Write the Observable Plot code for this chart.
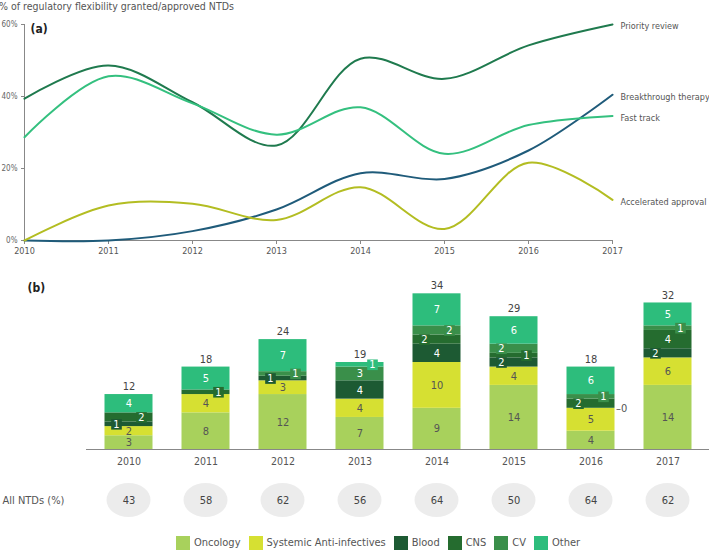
<!DOCTYPE html>
<html><head><meta charset="utf-8">
<script src="https://cdn.jsdelivr.net/npm/d3@7"></script>
<script src="https://cdn.jsdelivr.net/npm/@observablehq/plot@0.6"></script>
<style>
body{margin:0;background:#fff;}
#c{position:relative;width:709px;height:550px;overflow:hidden;font-family:'DejaVu Sans',sans-serif;font-stretch:condensed;color:#555;}
#c svg text{font-stretch:condensed;}
.abs{position:absolute;}
#legend .lg-swatch{margin-right:8px !important;}
#legend .lg-swatch>svg{margin-right:4px !important;}
</style></head><body><div id="c"></div>
<script>
const FONT = "'DejaVu Sans',sans-serif";
// ---- Panel (a) data ----
const years = [2010, 2011, 2012, 2013, 2014, 2015, 2016, 2017];
const priorityReview = [39.4, 48.6, 38.4, 26.4, 50.5, 44.9, 54.2, 60.0];
const breakthroughTherapy = [0, 0, 2.6, 8.6, 18.7, 17.1, 25.0, 40.5];
const fastTrack = [28.7, 45.6, 38.1, 29.4, 37.0, 24.1, 32.1, 34.6];
const acceleratedApproval = [0, 9.7, 10.2, 5.7, 14.8, 3.2, 21.6, 11.3];
const seriesNames = ["Priority review", "Breakthrough therapy", "Fast track", "Accelerated approval"];
const seriesColors = ["#1f7a4e", "#1f5b7a", "#34c07f", "#b3bd22"];
const yTicks = [0, 20, 40, 60];

// ---- Panel (b) data ----
const categories = ["Oncology", "Systemic Anti-infectives", "Blood", "CNS", "CV", "Other"];
const categoryColors = ["#a8d15c", "#d6e032", "#1d5a33", "#256c2f", "#3a8f4a", "#2dbd7c"];
const oncology = [3, 8, 12, 7, 9, 14, 4, 14];
const antiInfectives = [2, 4, 3, 4, 10, 4, 5, 6];
const blood = [1, 0, 1, 4, 4, 2, 0, 2];
const cns = [2, 1, 0, 0, 2, 1, 2, 4];
const cv = [0, 0, 1, 3, 2, 2, 1, 1];
const other = [4, 5, 7, 1, 7, 6, 6, 5];
const allNtdsPct = [43, 58, 62, 56, 64, 50, 64, 62];
const shownZeros = [{year: 2016, category: "Blood"}];

// ---- build tables ----
const seriesValues = [priorityReview, breakthroughTherapy, fastTrack, acceleratedApproval];
const lineData = seriesNames.flatMap((s, i) => years.map((yr, j) => ({series: s, year: yr, value: seriesValues[i][j]})));

function isLight(c) { return c === "Oncology" || c === "Systemic Anti-infectives"; }
const catValues = [oncology, antiInfectives, blood, cns, cv, other];
const barRows = [];
const labelRows = [];
const totalRows = [];
years.forEach((yr, j) => {
  let cum = 0;
  const yearRows = [];
  categories.forEach((c, k) => {
    const v = catValues[k][j];
    const row = {year: yr, category: c, value: v, y1: cum, y2: cum + v, mid: cum + v / 2};
    cum += v;
    barRows.push(row);
    yearRows.push(row);
  });
  totalRows.push({year: yr, total: cum});
  const small = yearRows.filter(r => r.value > 0 && r.value <= 2 && !isLight(r.category));
  yearRows.forEach(r => {
    if (r.value <= 0) return;
    let side = "center";
    const idx = small.indexOf(r);
    if (idx >= 0) side = small.length === 1 ? "right" : (idx % 2 === 0 ? "left" : "right");
    labelRows.push({...r, side, dark: isLight(r.category)});
  });
});
const zeroRows = shownZeros.map(z => barRows.find(r => r.year === z.year && r.category === z.category));
const ntdRows = years.map((yr, j) => ({year: yr, pct: allNtdsPct[j]}));

const root = document.getElementById("c");
function place(el, left, top) { el.classList.add("abs"); el.style.left = left + "px"; el.style.top = top + "px"; root.appendChild(el); return el; }

// title
const title = document.createElement("div");
title.textContent = "% of regulatory flexibility granted/approved NTDs";
title.style.cssText = "font-size:10.5px;line-height:12px;color:#555;white-space:nowrap;";
place(title, -1, 0);

const baseStyle = {fontFamily: FONT, fontStretch: "condensed", background: "transparent"};

// ---- Panel (a) ----
const topPlot = Plot.plot({
  width: 709, height: 262,
  marginLeft: 24, marginRight: 97, marginTop: 24, marginBottom: 22,
  style: {...baseStyle, fontSize: "9px", color: "#666"},
  x: {domain: [2010, 2017], label: null},
  y: {domain: [0, 60], label: null},
  color: {domain: seriesNames, range: seriesColors},
  marks: [
    Plot.axisY({ticks: yTicks, tickFormat: d => d + "%", tickSize: 3, tickPadding: 4, fontSize: 8, stroke: "#888", fill: "#666"}),
    Plot.axisX({ticks: years, tickFormat: d => String(d), tickSize: 4, tickPadding: 3, fontSize: 9, stroke: "#888", fill: "#555"}),
    Plot.ruleX([2010], {stroke: "#888"}),
    Plot.ruleY([0], {stroke: "#888"}),
    Plot.lineY(lineData, {x: "year", y: "value", stroke: "series", strokeWidth: 2, curve: "catmull-rom"}),
    Plot.text(lineData, Plot.selectLast({x: "year", y: "value", z: "series", text: "series", textAnchor: "start", dx: 8, dy: 2, fill: "#555", fontSize: 9})),
    Plot.text(["(a)"], {frameAnchor: "top-left", dx: 6, dy: 0, fontWeight: "bold", fontSize: 12, fill: "#222"})
  ]
});
place(topPlot, 0, 0);

// ---- Panel (b) ----
const barPlot = Plot.plot({
  width: 709, height: 220,
  marginLeft: 86, marginRight: 0, marginTop: 20, marginBottom: 26,
  style: {...baseStyle, fontSize: "10px", color: "#555"},
  x: {type: "band", domain: years, padding: 0, label: null},
  y: {domain: [0, 38], axis: null},
  color: {domain: categories, range: categoryColors},
  marks: [
    Plot.axisX({tickSize: 0, tickPadding: 8, tickFormat: d => String(d), fontSize: 10.5, fill: "#555"}),
    Plot.rect(barRows, {x: "year", y1: "y1", y2: "y2", fill: "category", insetLeft: 14.5, insetRight: 14.5}),
    Plot.ruleY([0], {stroke: "#888"}),
    Plot.text(labelRows.filter(d => d.side === "center"), {x: "year", y: "mid", text: "value", fill: d => d.dark ? "#555" : "#fff", fontSize: 11}),
    Plot.dot(labelRows.filter(d => d.side === "left"), {x: "year", y: "mid", dx: -12.5, symbol: "square", r: 6, fill: "category"}),
    Plot.dot(labelRows.filter(d => d.side === "right"), {x: "year", y: "mid", dx: 12.5, symbol: "square", r: 6, fill: "category"}),
    Plot.text(labelRows.filter(d => d.side === "left"), {x: "year", y: "mid", dx: -12.5, text: "value", fill: "#fff", fontSize: 11}),
    Plot.text(labelRows.filter(d => d.side === "right"), {x: "year", y: "mid", dx: 12.5, text: "value", fill: "#fff", fontSize: 11}),
    Plot.text(zeroRows, {x: "year", y: "y2", text: d => "–" + d.value, dx: 25, textAnchor: "start", fill: "#555", fontSize: 11}),
    Plot.text(totalRows, {x: "year", y: "total", text: "total", dy: -8, fill: "#444", fontSize: 11}),
    Plot.text(["(b)"], {frameAnchor: "top-left", dx: -59, dy: 8, fontWeight: "bold", fontSize: 12, fill: "#222"})
  ]
});
place(barPlot, 0, 255);

// ---- All NTDs row ----
const ntdPlot = Plot.plot({
  width: 709, height: 45,
  marginLeft: 86, marginRight: 0, marginTop: 5, marginBottom: 6,
  style: {...baseStyle, fontSize: "11px", color: "#444"},
  x: {type: "band", domain: years, padding: 0, axis: null},
  y: {domain: [0, 1], axis: null},
  marks: [
    Plot.rect(ntdRows, {x: "year", y1: 0, y2: 1, insetLeft: 16.5, insetRight: 16.5, rx: 22.5, ry: 17, fill: "#ececec"}),
    Plot.text(ntdRows, {x: "year", y: 0.5, text: "pct", fill: "#444", fontSize: 11}),
    Plot.text(["All NTDs (%)"], {frameAnchor: "left", dx: -84, textAnchor: "start", fill: "#555", fontSize: 11})
  ]
});
place(ntdPlot, 0, 478);

// ---- legend ----
const legendWrap = document.createElement("div");
legendWrap.id = "legend";
const legend = Plot.legend({
  color: {type: "ordinal", domain: categories, range: categoryColors},
  swatchSize: 14, className: "lg",
  style: {...baseStyle, fontSize: "11px", color: "#555"}
});
legendWrap.appendChild(legend);
place(legendWrap, 176, 526);
</script></body></html>
